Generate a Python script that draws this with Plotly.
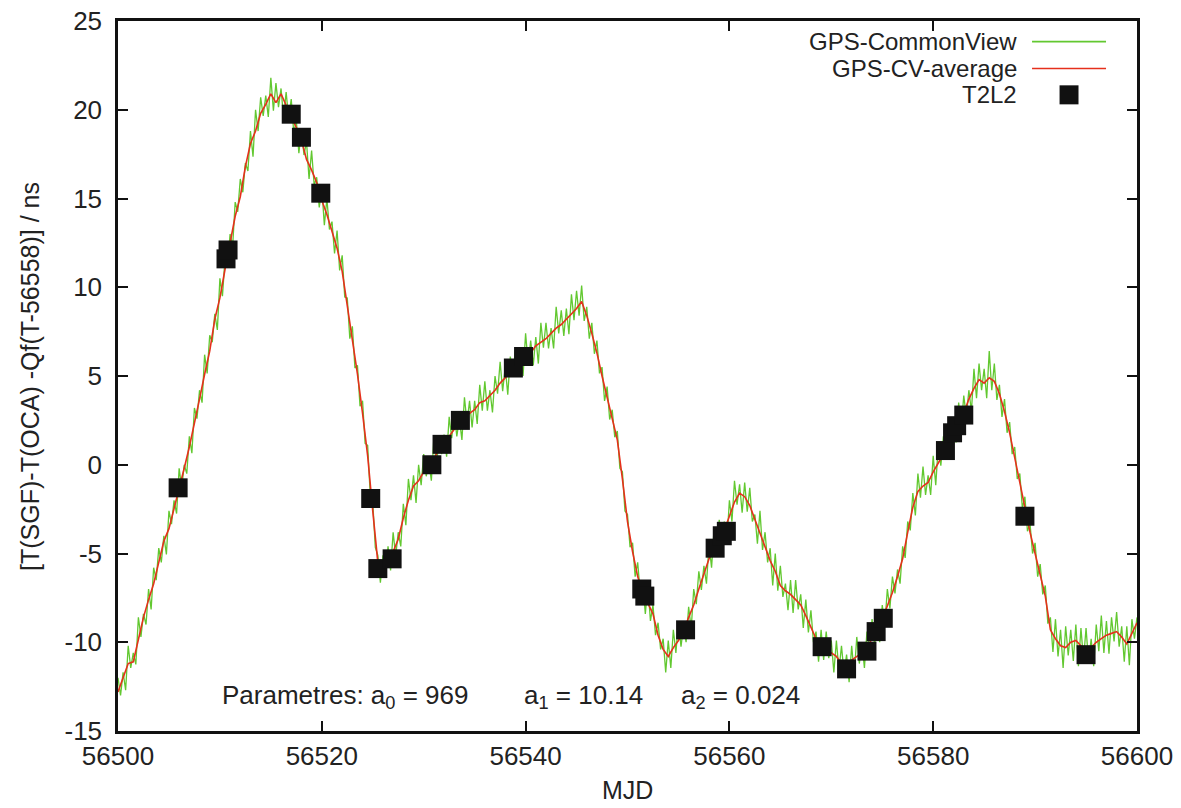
import plotly.graph_objects as go
import numpy as np

# ---------------- data ----------------
MJD_START = 56500.0
GREEN_STEP = 0.25
RED_STEP = 0.5

# GPS-CommonView (noisy), one value every 0.25 day from 56500 to 56600
gps_cv = [
    -12.0, -13.0, -11.7, -12.7,
    -10.2, -11.45, -10.6, -11.25,
    -8.6, -9.7, -8.4, -9.0,
    -7.0, -8.15, -5.8, -6.5,
    -4.7, -5.5, -4.0, -5.05,
    -2.6, -3.35, -2.0, -2.75,
    -0.2, -1.3, 0.0, -0.5,
    1.6, 0.65, 3.2, 2.6,
    4.2, 3.5, 6.2, 5.15,
    7.3, 6.9, 8.5, 7.6,
    10.5, 9.5, 11.6, 11.3,
    13.0, 12.3, 14.8, 14.25,
    16.1, 15.35, 17.0, 16.55,
    18.8, 17.35, 20.0, 18.8,
    20.7, 19.65, 20.8, 19.6,
    21.8, 19.95, 21.5, 20.15,
    21.2, 19.55, 21.0, 19.5,
    20.6, 18.7, 19.4, 17.55,
    18.9, 17.45, 18.2, 16.1,
    17.7, 15.75, 16.2, 14.5,
    15.6, 13.5, 15.0, 13.25,
    13.7, 11.9, 13.2, 10.95,
    11.8, 9.45, 9.4, 7.1,
    7.8, 5.45, 5.6, 3.3,
    3.6, 1.2, 1.1, -1.65,
    -2.1, -4.65, -5.1, -6.65,
    -5.1, -6.2, -4.6, -5.95,
    -3.8, -5.15, -3.8, -4.6,
    -2.2, -3.4, -0.8, -2.0,
    -0.6, -2.15, 0.0, -1.15,
    0.6, -0.65, 0.2, -0.9,
    1.5, -0.1, 1.5, 0.6,
    1.7, 0.45, 2.7, 1.5,
    2.9, 1.6, 2.6, 1.4,
    3.8, 2.35, 3.6, 2.1,
    3.6, 2.3, 4.5, 3.05,
    4.7, 3.05, 4.2, 2.95,
    5.0, 4.0, 5.8, 4.15,
    5.5, 3.95, 6.1, 5.05,
    6.5, 5.1, 6.3, 5.0,
    7.4, 5.7, 7.0, 5.6,
    7.2, 5.7, 8.0, 6.6,
    8.0, 6.55, 7.7, 6.55,
    8.9, 7.4, 8.7, 7.25,
    8.8, 7.35, 9.6, 8.15,
    9.8, 8.4, 10.1, 8.1,
    8.9, 7.1, 8.0, 6.25,
    7.0, 5.15, 5.5, 3.6,
    4.4, 2.55, 3.1, 1.55,
    1.9, -0.2, -0.4, -2.6,
    -2.8, -4.65, -4.4, -6.3,
    -5.5, -7.25, -6.6, -8.4,
    -6.8, -8.8, -7.9, -9.6,
    -8.9, -10.4, -9.8, -11.7,
    -9.9, -11.45, -9.3, -10.6,
    -8.8, -10.25, -9.1, -10.0,
    -8.0, -9.25, -7.0, -7.85,
    -6.0, -7.05, -5.7, -6.7,
    -4.5, -5.8, -3.6, -4.9,
    -3.1, -4.3, -3.2, -4.4,
    -2.0, -3.2, -0.9, -2.25,
    -1.1, -2.7, -1.0, -2.65,
    -1.3, -3.2, -2.8, -4.45,
    -2.6, -4.8, -3.8, -5.5,
    -4.7, -6.8, -5.0, -7.1,
    -5.7, -7.45, -6.7, -8.2,
    -6.5, -8.35, -6.5, -8.15,
    -7.3, -9.2, -7.6, -9.45,
    -8.2, -10.0, -9.4, -11.1,
    -9.3, -11.0, -9.4, -10.9,
    -9.9, -11.7, -9.9, -11.6,
    -10.2, -11.75, -10.7, -12.25,
    -10.2, -11.8, -9.7, -11.2,
    -10.0, -11.45, -9.4, -10.45,
    -8.7, -10.15, -9.0, -10.0,
    -7.9, -9.05, -7.0, -8.1,
    -6.3, -7.25, -5.9, -6.7,
    -4.6, -5.25, -3.2, -3.7,
    -1.6, -2.85, -0.5, -1.85,
    -0.1, -1.7, -0.6, -1.7,
    0.5, -1.15, 1.1, -0.05,
    1.6, 0.4, 1.8, 0.55,
    2.6, 1.25, 3.5, 2.05,
    3.9, 2.7, 4.2, 3.0,
    5.4, 3.75, 5.7, 4.2,
    5.4, 3.75, 6.4, 4.2,
    5.7, 3.65, 4.5, 2.7,
    3.7, 1.8, 2.4, 0.6,
    1.0, -0.8, -0.5, -2.45,
    -1.8, -3.75, -3.3, -5.0,
    -4.4, -6.3, -5.6, -7.3,
    -6.8, -8.95, -8.6, -10.55,
    -8.7, -10.8, -9.3, -11.45,
    -9.1, -10.75, -9.3, -11.05,
    -9.0, -11.35, -9.2, -11.0,
    -9.2, -11.15, -9.8, -11.35,
    -9.0, -10.5, -8.5, -10.6,
    -8.8, -10.65, -8.6, -9.95,
    -8.3, -10.25, -9.1, -11.1,
    -9.1, -11.3, -8.7, -9.8,
    -8.6,
]

# GPS-CV-average, one value every 0.5 day from 56500 to 56600
gps_cv_avg = [
    -12.8, -12.0, -11.2, -11.1, -9.8, -8.6, -7.6, -6.7, -5.5, -4.3,
    -3.6, -2.5, -1.4, -0.2, 1.0, 2.3, 3.7, 5.1, 6.4, 8.2,
    9.4, 11.0, 12.6, 14.0, 15.1, 16.8, 18.1, 18.8, 19.8, 20.3,
    20.9, 20.4, 20.9, 20.2, 19.6, 19.0, 18.3, 17.2, 16.6, 15.9,
    14.9, 14.1, 13.2, 12.2, 10.9, 9.0, 7.0, 5.1, 2.9, 0.5,
    -2.6, -5.5, -6.0, -5.6, -4.9, -4.2, -3.0, -2.0, -1.2, -0.9,
    -0.4, -0.1, 0.3, 0.9, 1.3, 1.6, 2.0, 2.4, 2.6, 2.9,
    3.1, 3.5, 3.6, 3.9, 4.2, 4.6, 4.9, 5.2, 5.5, 5.9,
    6.1, 6.3, 6.7, 6.9, 7.1, 7.4, 7.7, 7.9, 8.2, 8.5,
    8.8, 9.2, 8.4, 7.4, 6.3, 5.0, 3.8, 2.7, 1.4, -0.8,
    -3.2, -4.9, -6.3, -7.2, -7.8, -8.4, -9.6, -10.4, -10.8, -10.3,
    -9.9, -9.4, -8.6, -7.9, -7.0, -6.1, -5.3, -4.7, -4.1, -3.7,
    -2.9, -2.1, -1.6, -1.8, -2.3, -3.1, -3.8, -4.6, -5.4, -6.0,
    -6.8, -7.1, -7.3, -7.6, -7.9, -8.5, -9.2, -9.8, -10.2, -10.4,
    -10.6, -10.8, -11.2, -11.3, -11.0, -10.8, -10.6, -10.3, -9.8, -9.3,
    -8.7, -8.0, -7.2, -6.3, -5.3, -3.8, -2.4, -1.5, -1.2, -1.0,
    -0.4, 0.1, 0.6, 1.2, 1.9, 2.4, 2.9, 3.7, 4.3, 4.8,
    4.6, 4.9, 4.7, 4.0, 3.0, 1.8, 0.4, -1.0, -2.5, -3.8,
    -5.0, -6.2, -7.4, -9.3, -9.8, -10.2, -10.3, -10.0, -9.9, -10.2,
    -10.4, -10.3, -10.0, -9.8, -9.6, -9.5, -9.4, -9.7, -10.1, -9.5,
    -8.9,
]

# T2L2 points
t2l2_mjd = [56505.9, 56510.6, 56510.8, 56517.0, 56518.0, 56519.9, 56524.8,
            56525.5, 56526.9, 56530.8, 56531.8, 56533.6, 56538.8, 56539.8,
            56551.4, 56551.7, 56555.7, 56558.6, 56559.3, 56559.7, 56569.1,
            56571.5, 56573.5, 56574.4, 56575.1, 56581.2, 56581.9, 56582.3,
            56583.0, 56589.0, 56595.0]
t2l2_val = [-1.3, 11.6, 12.1, 19.75, 18.45, 15.3, -1.9,
            -5.85, -5.3, 0.0, 1.15, 2.5, 5.45, 6.1,
            -7.0, -7.4, -9.3, -4.7, -4.0, -3.75, -10.25,
            -11.5, -10.5, -9.4, -8.65, 0.8, 1.8, 2.2,
            2.8, -2.9, -10.7]

x_tick_vals = [56500, 56520, 56540, 56560, 56580, 56600]
x_tick_text = ["56500", "56520", "56540", "56560", "56580", "56600"]
y_tick_vals = [-15, -10, -5, 0, 5, 10, 15, 20, 25]
y_tick_text = ["-15", "-10", "-5", "0", "5", "10", "15", "20", "25"]

series_names = ["GPS-CommonView", "GPS-CV-average", "T2L2"]
x_title = "MJD"
y_title = "[T(SGF)-T(OCA) -Qf(T-56558)] / ns"

# ---------------- figure ----------------
GREEN = "#62c830"
RED = "#e5301c"
BLACK = "#111111"
TEXT = "#222222"
FONT = "Liberation Sans, Arial, Helvetica, sans-serif"

x_green = MJD_START + GREEN_STEP * np.arange(len(gps_cv))
x_red = MJD_START + RED_STEP * np.arange(len(gps_cv_avg))

fig = go.Figure()
fig.add_trace(go.Scatter(x=x_green, y=gps_cv, mode="lines", name=series_names[0],
                         line=dict(color=GREEN, width=1.3)))
fig.add_trace(go.Scatter(x=x_red, y=gps_cv_avg, mode="lines", name=series_names[1],
                         line=dict(color=RED, width=1.6)))
fig.add_trace(go.Scatter(x=t2l2_mjd, y=t2l2_val, mode="markers", name=series_names[2],
                         marker=dict(symbol="square", size=19, color=BLACK,
                                     line=dict(width=0))))

axis_common = dict(showgrid=False, zeroline=False, showline=True, linecolor=BLACK,
                   linewidth=2.5, mirror="ticks", ticks="inside", ticklen=10,
                   tickwidth=2, tickcolor=BLACK, automargin=False,
                   tickfont=dict(family=FONT, size=26, color=TEXT))

fig.update_layout(
    width=1181, height=808,
    margin=dict(l=118, r=44, t=21, b=77),
    paper_bgcolor="white", plot_bgcolor="white",
    showlegend=False,
    font=dict(family=FONT, size=26, color=TEXT),
    xaxis=dict(range=[56500, 56600], tickvals=x_tick_vals, ticktext=x_tick_text,
               **axis_common),
    yaxis=dict(range=[-15, 25], tickvals=y_tick_vals, ticktext=y_tick_text,
               ticklabelstandoff=8, **axis_common),
)

# axis titles
fig.add_annotation(xref="paper", yref="paper", x=0.5, y=-0.106, text=x_title,
                   showarrow=False, xanchor="center", yanchor="bottom",
                   font=dict(family=FONT, size=25, color=TEXT))
fig.add_annotation(xref="paper", yref="paper", x=-0.0864, y=0.5, text=y_title,
                   textangle=-90, showarrow=False, xanchor="center", yanchor="middle",
                   font=dict(family=FONT, size=25, color=TEXT))

# custom legend: text on the left, symbol on the right
leg_text_x = 0.884
leg_rows = [0.971, 0.933, 0.896]
for name, yy in zip(series_names, leg_rows):
    fig.add_annotation(xref="paper", yref="paper", x=leg_text_x, y=yy, text=name,
                       showarrow=False, xanchor="right", yanchor="middle",
                       font=dict(family=FONT, size=24, color=TEXT))
fig.add_shape(type="line", xref="paper", yref="paper", x0=0.897, x1=0.9696,
              y0=leg_rows[0], y1=leg_rows[0], line=dict(color=GREEN, width=1.6))
fig.add_shape(type="line", xref="paper", yref="paper", x0=0.897, x1=0.9696,
              y0=leg_rows[1], y1=leg_rows[1], line=dict(color=RED, width=1.6))
fig.add_shape(type="rect", xref="paper", yref="paper", x0=0.9333 - 0.0093, x1=0.9333 + 0.0093,
              y0=leg_rows[2] - 0.0134, y1=leg_rows[2] + 0.0134,
              fillcolor=BLACK, line=dict(width=0))

# parameter annotation
param_texts = ["Parametres: a<sub>0</sub> = 969", "a<sub>1</sub> = 10.14", "a<sub>2</sub> = 0.024"]
param_x = [0.100, 0.396, 0.551]
for t, xx in zip(param_texts, param_x):
    fig.add_annotation(xref="paper", yref="paper", x=xx, y=0.049, text=t,
                       showarrow=False, xanchor="left", yanchor="middle",
                       font=dict(family=FONT, size=26, color=TEXT))

fig.write_html("out.html")
